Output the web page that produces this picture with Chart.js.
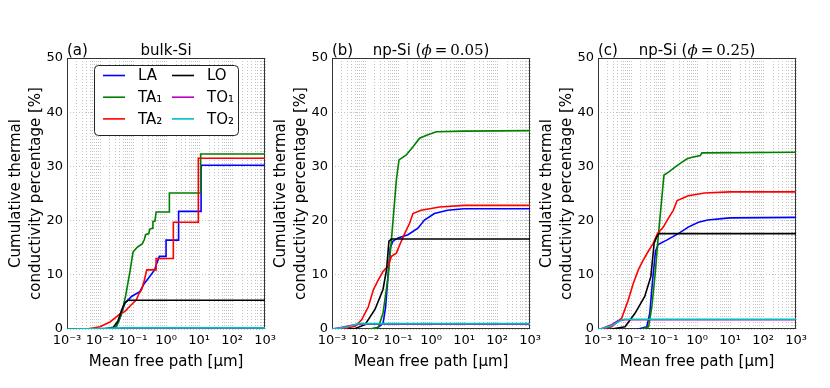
<!DOCTYPE html>
<html>
<head>
<meta charset="utf-8">
<script src="https://cdn.jsdelivr.net/npm/chart.js@4.4.1/dist/chart.umd.min.js"></script>
<style>
  html, body { margin: 0; padding: 0; background: #fff; }
  #wrap { position: relative; width: 830px; height: 388px; overflow: hidden; }
  .panel { position: absolute; top: 0; width: 280px; height: 388px; }
</style>
</head>
<body>
<div id="wrap">
  <div class="panel" style="left:0px"><canvas id="bulk" width="280" height="388"></canvas></div>
  <div class="panel" style="left:265px"><canvas id="np05" width="280" height="388"></canvas></div>
  <div class="panel" style="left:531px"><canvas id="np25" width="280" height="388"></canvas></div>
</div>
<script>
// phonon branches, same order in every panel
const modeLabels = ['LA', 'TA₁', 'TA₂', 'LO', 'TO₁', 'TO₂'];
const modeColors = ['#0000ff', '#008000', '#ff0000', '#000000', '#bf00bf', '#00bfbf'];

// x ticks (mean free path, um) and their labels
const xMajors = [0.001, 0.01, 0.1, 1, 10, 100, 1000];
const xTickLabels = ['10⁻³', '10⁻²', '10⁻¹', '10⁰', '10¹', '10²', '10³'];

// points are [mean free path (um), cumulative %]
// (a) bulk-Si
const bulkLA = [[0.02,0],[0.03,0.3],[0.04,2.0],[0.056,4.7],[0.09,6.0],[0.16,6.9],[0.22,8.4],[0.32,9.7],[0.45,10.9],[0.5,11.8],[0.63,13.4],[1.0,13.4],[1.0,16.4],[2.4,16.4],[2.4,21.7],[11.5,21.7],[11.5,30.2],[1000,30.2]];
const bulkTA1 = [[0.025,0],[0.032,0.5],[0.045,2.8],[0.06,6.2],[0.08,10.5],[0.1,14.2],[0.13,15.0],[0.16,15.4],[0.19,15.7],[0.22,16.5],[0.24,17.4],[0.3,17.6],[0.32,18.4],[0.38,18.6],[0.4,19.8],[0.46,19.9],[0.5,21.6],[1.26,21.6],[1.26,25.1],[11.2,25.1],[11.2,32.3],[1000,32.3]];
const bulkTA2 = [[0.004,0],[0.01,0.4],[0.02,1.3],[0.032,2.3],[0.04,2.8],[0.056,3.2],[0.08,4.2],[0.126,5.4],[0.15,6.5],[0.18,7.2],[0.22,9.0],[0.26,10.9],[0.5,10.9],[0.5,13.0],[1.66,13.0],[1.66,19.7],[9.5,19.7],[9.5,31.5],[1000,31.5]];
const bulkLO = [[0.0126,0],[0.025,0.3],[0.035,1.5],[0.045,3.5],[0.056,4.8],[0.07,5.3],[1000,5.3]];
const bulkTO1 = [[0.002,0],[0.005,0.05],[0.03,0.1],[1000,0.1]];
const bulkTO2 = [[0.001,0],[0.01,0.1],[0.05,0.2],[1000,0.2]];

// (b) np-Si, phi = 0.05
const np05LA = [[0.0158,0],[0.025,0.3],[0.035,1.0],[0.042,4.0],[0.05,10.0],[0.058,15.0],[0.07,16.2],[0.1,16.8],[0.2,17.4],[0.4,18.6],[0.63,20.1],[1.26,21.3],[3.16,21.9],[10,22.2],[1000,22.2]];
const np05TA1 = [[0.0126,0],[0.025,0.2],[0.035,2.9],[0.05,9.6],[0.063,16.4],[0.089,27.5],[0.107,31.2],[0.178,32.1],[0.28,33.6],[0.45,35.2],[0.7,35.7],[1.45,36.4],[10,36.5],[1000,36.6]];
const np05TA2 = [[0.002,0],[0.0025,0.1],[0.005,0.5],[0.0079,1.7],[0.0126,4.1],[0.0178,7.2],[0.025,9.0],[0.035,10.6],[0.05,11.6],[0.063,13.4],[0.089,14.0],[0.112,15.5],[0.158,17.6],[0.224,19.5],[0.282,21.3],[0.5,21.9],[1.82,22.5],[10,22.8],[1000,22.8]];
const np05LO = [[0.003,0],[0.005,0.1],[0.01,0.8],[0.02,3.6],[0.035,7.3],[0.045,11.0],[0.053,16.2],[0.063,16.6],[1000,16.6]];
const np05TO1 = [[0.001,0],[0.002,0.3],[0.004,0.7],[0.0063,0.9],[1000,0.9]];
const np05TO2 = [[0.001,0],[0.002,0.2],[0.004,0.6],[0.0063,1.0],[1000,1.0]];

// (c) np-Si, phi = 0.25
const np25LA = [[0.0166,0],[0.03,0.4],[0.037,2.9],[0.045,9.0],[0.055,14.3],[0.066,15.6],[0.12,16.4],[0.27,17.6],[0.54,18.8],[1.1,19.7],[2.1,20.1],[10,20.5],[1000,20.6]];
const np25TA1 = [[0.021,0],[0.034,0.4],[0.043,4.2],[0.054,10.3],[0.068,17.6],[0.096,27.4],[0.1,28.4],[0.14,29.0],[0.22,29.9],[0.35,30.8],[0.5,31.4],[0.7,31.7],[1.26,32.0],[1.4,32.5],[1000,32.6]];
const np25TA2 = [[0.0013,0],[0.0026,0.4],[0.0052,2.0],[0.0083,5.4],[0.0117,8.4],[0.0166,10.9],[0.0234,12.7],[0.033,14.3],[0.047,15.8],[0.063,17.6],[0.095,18.8],[0.135,20.4],[0.19,21.9],[0.25,23.7],[0.54,24.6],[1.7,25.1],[10,25.3],[1000,25.3]];
const np25LO = [[0.0026,0],[0.0066,0.4],[0.0132,2.9],[0.026,6.0],[0.04,9.7],[0.05,15.8],[0.06,17.0],[0.07,17.6],[1000,17.6]];
const np25TO1 = [[0.001,0],[0.0013,0.1],[0.0026,0.8],[0.004,1.5],[0.0063,1.7],[1000,1.7]];
const np25TO2 = [[0.001,0],[0.0013,0.1],[0.0026,0.6],[0.005,1.6],[0.0063,1.8],[1000,1.8]];

// grid positions: 1..9 x 10^n (log minor grid like matplotlib)
const xGrid = [];
for (let e = -3; e < 3; e++) for (let m = 1; m < 10; m++) xGrid.push(+(m * Math.pow(10, e)).toPrecision(3));
xGrid.push(1000);

const FONT = 'DejaVu Sans';
const SANS = '15px "DejaVu Sans"';
const GRID = '#c4c4c4';

// box round the plot
const framePlugin = {
  id: 'frame',
  beforeDatasetsDraw(chart) {
    const { ctx, chartArea: a } = chart;
    ctx.save();
    ctx.strokeStyle = '#333';
    ctx.lineWidth = 1;
    ctx.strokeRect(Math.round(a.left) + 0.5, Math.round(a.top) + 0.5, Math.round(a.right - a.left) - 1, Math.round(a.bottom - a.top) - 1);
    ctx.restore();
  }
};

// "(a)" tag + centred title, title can mix fonts
const panelTitle = {
  id: 'panelTitle',
  afterDraw(chart, args, opts) {
    const { ctx, chartArea: a } = chart;
    const base = a.top - 3.5;
    ctx.save();
    ctx.fillStyle = '#000';
    ctx.textBaseline = 'alphabetic';
    ctx.textAlign = 'left';
    ctx.font = SANS;
    ctx.fillText(opts.tag, a.left, base);
    let w = 0;
    opts.parts.forEach(p => { ctx.font = p[1]; w += ctx.measureText(p[0]).width; });
    let x = (a.left + a.right) / 2 - w / 2;
    opts.parts.forEach(p => {
      ctx.font = p[1];
      ctx.fillText(p[0], x, base);
      x += ctx.measureText(p[0]).width;
    });
    ctx.restore();
  }
};

// two column legend (matplotlib ncol=2)
const modeLegend = {
  id: 'modeLegend',
  afterDraw(chart, args, opts) {
    if (!opts.show) return;
    const { ctx, chartArea: a } = chart;
    const bx = a.left + 27.5, by = a.top + 7.5, bw = 144, bh = 70;
    ctx.save();
    ctx.fillStyle = '#fff';
    ctx.strokeStyle = '#222';
    ctx.lineWidth = 1;
    ctx.beginPath();
    if (ctx.roundRect) ctx.roundRect(bx, by, bw, bh, 4); else ctx.rect(bx, by, bw, bh);
    ctx.fill();
    ctx.stroke();
    ctx.font = SANS;
    ctx.textBaseline = 'middle';
    ctx.textAlign = 'left';
    chart.data.datasets.forEach((ds, i) => {
      const col = Math.floor(i / 3), row = i % 3;
      const y = a.top + 17.5 + row * 21.7;
      const lx = a.left + 36 + col * 69;
      ctx.strokeStyle = ds.borderColor;
      ctx.lineWidth = 1.6;
      ctx.beginPath();
      ctx.moveTo(lx, y);
      ctx.lineTo(lx + 22, y);
      ctx.stroke();
      ctx.fillStyle = '#000';
      ctx.fillText(ds.label, lx + 35, y + 1);
    });
    ctx.restore();
  }
};

function makePanel(id, tag, parts, series, withLegend) {
  return new Chart(document.getElementById(id), {
    type: 'line',
    data: {
      datasets: series.map((pts, i) => ({
        label: modeLabels[i],
        data: pts.map(p => ({ x: p[0], y: p[1] })),
        borderColor: modeColors[i],
        backgroundColor: modeColors[i],
        borderWidth: 1.6,
        pointRadius: 0,
        tension: 0,
        fill: false,
        order: series.length - 1 - i
      }))
    },
    options: {
      responsive: false,
      animation: false,
      layout: { padding: { top: 58, right: 14, left: 0, bottom: 0 } },
      plugins: {
        legend: { display: false },
        tooltip: { enabled: false },
        panelTitle: { tag: tag, parts: parts },
        modeLegend: { show: withLegend }
      },
      scales: {
        x: {
          type: 'logarithmic',
          min: 0.001,
          max: 1000,
          afterFit: s => { s.height = 59; },
          afterBuildTicks: s => { s.ticks = xGrid.map(v => ({ value: v })); },
          ticks: {
            autoSkip: false,
            maxRotation: 0,
            padding: 4,
            color: '#000',
            font: { family: FONT, size: 13 },
            callback: v => {
              const k = xMajors.findIndex(m => Math.abs(v / m - 1) < 1e-6);
              return k < 0 ? '' : xTickLabels[k];
            }
          },
          grid: { color: GRID, lineWidth: 1, drawTicks: false },
          border: { display: false, dash: [1, 2] },
          title: {
            display: true,
            text: 'Mean free path [μm]',
            color: '#000',
            font: { family: FONT, size: 15, lineHeight: 1.333 },
            padding: { top: 0, bottom: 16 }
          }
        },
        y: {
          min: 0,
          max: 50,
          afterFit: s => { s.width = 67; },
          ticks: { stepSize: 10, padding: 4, color: '#000', font: { family: FONT, size: 13 } },
          grid: { color: GRID, lineWidth: 1, drawTicks: false },
          border: { display: false, dash: [1, 2] },
          title: {
            display: true,
            text: ['Cumulative thermal', 'conductivity percentage [%]'],
            color: '#000',
            font: { family: FONT, size: 15, lineHeight: 1.333 },
            padding: { top: 6, bottom: 0 }
          }
        }
      }
    },
    plugins: [framePlugin, panelTitle, modeLegend]
  });
}

const SERIF = '15px "DejaVu Serif"';
const SERIF_IT = 'italic 15px "DejaVu Serif"';

makePanel('bulk', '(a)', [['bulk-Si', SANS]],
  [bulkLA, bulkTA1, bulkTA2, bulkLO, bulkTO1, bulkTO2], true);
makePanel('np05', '(b)', [['np-Si (', SANS], ['ϕ', SERIF_IT], ['\u2009=\u2009', SERIF], ['0.05', SERIF], [')', SANS]],
  [np05LA, np05TA1, np05TA2, np05LO, np05TO1, np05TO2], false);
makePanel('np25', '(c)', [['np-Si (', SANS], ['ϕ', SERIF_IT], ['\u2009=\u2009', SERIF], ['0.25', SERIF], [')', SANS]],
  [np25LA, np25TA1, np25TA2, np25LO, np25TO1, np25TO2], false);
</script>
</body>
</html>
